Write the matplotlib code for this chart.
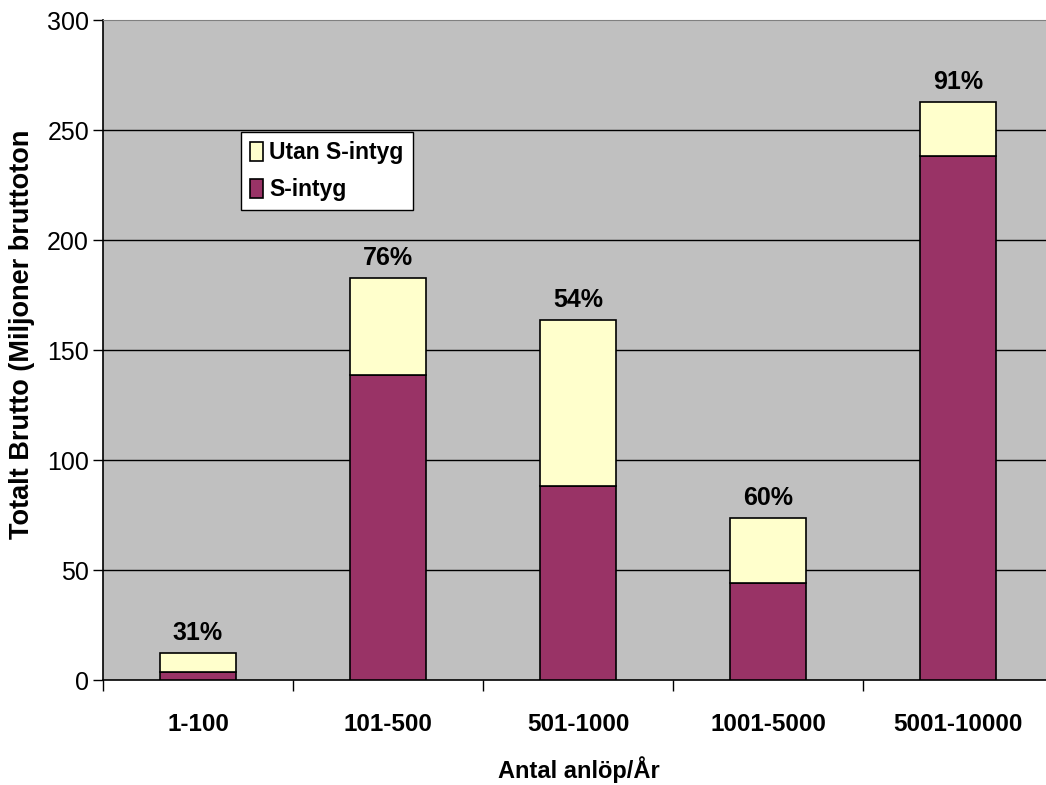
import matplotlib
matplotlib.use("Agg")
import matplotlib.pyplot as plt
import numpy as np

# data
categories = ["1-100", "101-500", "501-1000", "1001-5000", "5001-10000"]
s_intyg = [3.8, 138.5, 88.0, 44.0, 238.0]
utan_s_intyg = [8.5, 44.0, 75.5, 29.5, 24.5]
pct_labels = ["31%", "76%", "54%", "60%", "91%"]
y_ticks = [0, 50, 100, 150, 200, 250, 300]

plt.rcParams['font.family'] = ['Liberation Sans', 'DejaVu Sans']

fig = plt.figure(figsize=(10.46, 7.85), dpi=100)
ax = fig.add_axes([103/1046, 105/785, 950/1046, 660/785])
ax.set_facecolor("#C0C0C0")

x = np.arange(len(categories))
w = 0.4
purple = "#993366"
yellow = "#FFFFCC"

b1 = ax.bar(x, s_intyg, w, color=purple, edgecolor="black", linewidth=1.2,
            label="S-intyg", zorder=3)
b2 = ax.bar(x, utan_s_intyg, w, bottom=s_intyg, color=yellow, edgecolor="black",
            linewidth=1.2, label="Utan S-intyg", zorder=3)

totals = np.array(s_intyg) + np.array(utan_s_intyg)
for xi, t, lab in zip(x, totals, pct_labels):
    ax.annotate(lab, (xi, t), xytext=(0, 6), textcoords="offset points",
                ha="center", va="bottom", fontsize=18, fontweight="bold")

ax.set_xlim(-0.5, len(categories) - 0.5)
ax.set_ylim(0, 300)
ax.set_yticks(y_ticks)
ax.set_yticklabels([str(v) for v in y_ticks], fontsize=18)
ax.yaxis.grid(True, color="black", linewidth=1.0, zorder=1)
ax.set_axisbelow(True)
ax.get_ygridlines()[-1].set_visible(False)
ax.get_ygridlines()[0].set_visible(False)
ax.tick_params(axis="y", length=7, width=1.0, pad=3)

ax.set_xticks(x)
ax.set_xticklabels(categories, fontsize=17.5, fontweight="bold")
ax.set_xticks(np.arange(-0.5, len(categories)), minor=True)
ax.tick_params(axis="x", which="major", length=0, pad=24)
ax.tick_params(axis="x", which="minor", length=8, width=1.0)

ax.spines["top"].set_color("#808080")
ax.spines["right"].set_visible(False)
ax.spines["left"].set_linewidth(1.2)
ax.spines["bottom"].set_linewidth(1.2)

fig.text(579/1046, 1 - 770/785, "Antal anlöp/År", fontsize=17, fontweight="bold",
         ha="center", va="center")
fig.text(22/1046, 1 - 334/785, "Totalt Brutto (Miljoner bruttoton", fontsize=19.5,
         fontweight="bold", rotation=90, ha="center", va="center")

leg = ax.legend(handles=[b2, b1], loc="upper left", bbox_to_anchor=(0.145, 0.830),
                borderaxespad=0, prop={"weight": "bold", "size": 16.5},
                frameon=True, fancybox=False, edgecolor="black", framealpha=1,
                handlelength=0.55, handleheight=0.9, handletextpad=0.3,
                labelspacing=0.6, borderpad=0.4)
leg.get_frame().set_linewidth(1.0)

fig.savefig("out.png", dpi=100)
